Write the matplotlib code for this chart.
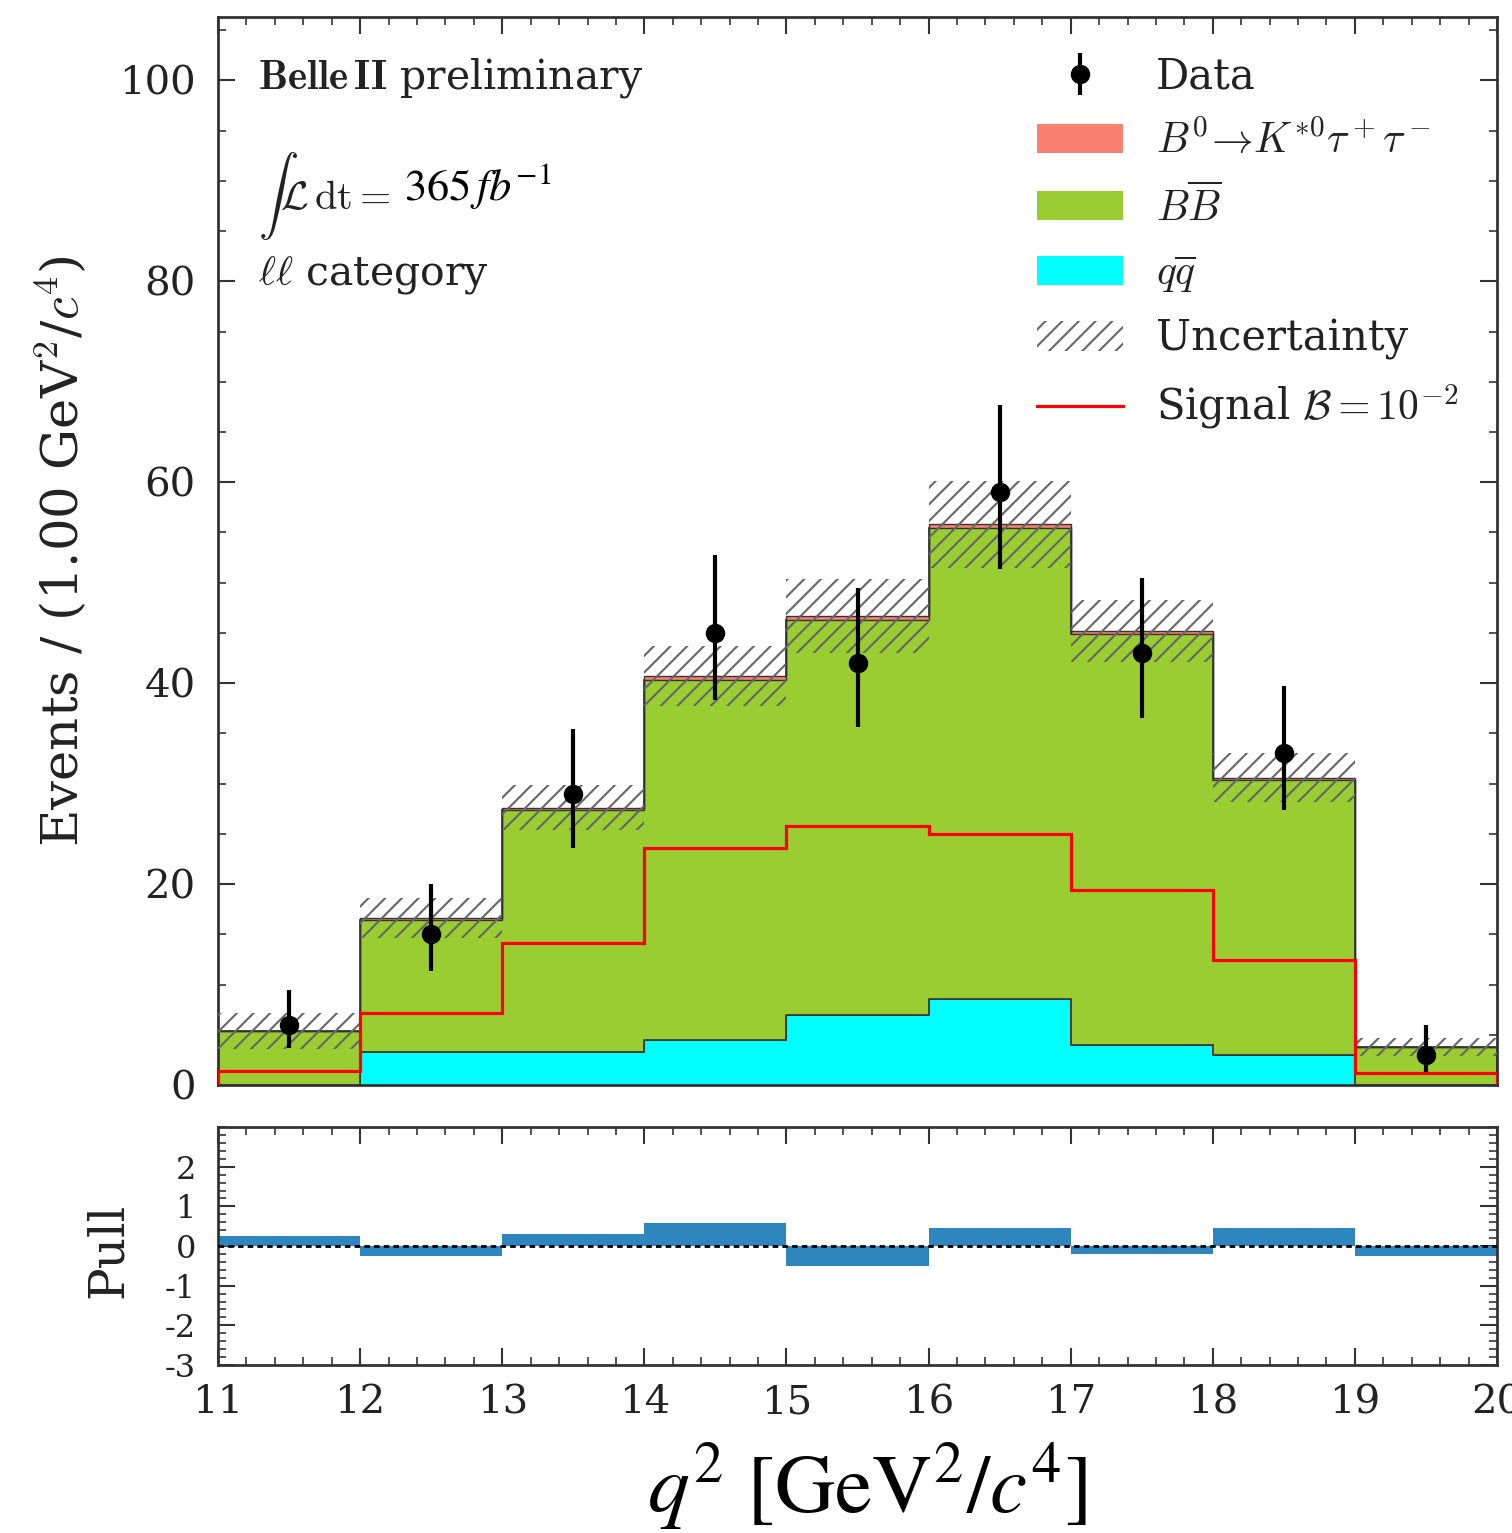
import numpy as np
import matplotlib
matplotlib.use("Agg")
import matplotlib.pyplot as plt
from matplotlib.patches import Patch
from matplotlib.lines import Line2D
from matplotlib.ticker import MultipleLocator

plt.rcParams['font.family'] = ['DejaVu Serif']
plt.rcParams['mathtext.fontset'] = 'cm'
plt.rcParams['axes.unicode_minus'] = False
plt.rcParams['hatch.linewidth'] = 1.5
plt.rcParams['hatch.color'] = '#666666'

# ---- data ----
edges = [11, 12, 13, 14, 15, 16, 17, 18, 19, 20]
qq = [0.0, 3.3, 3.3, 4.5, 7.0, 8.6, 4.0, 3.0, 0.0]
bb = [5.35, 13.15, 24.05, 35.85, 39.3, 46.8, 40.9, 27.4, 3.75]
sig_stack = [0.05, 0.15, 0.25, 0.35, 0.4, 0.4, 0.3, 0.2, 0.05]
unc = [1.8, 2.0, 2.25, 3.0, 3.7, 4.3, 3.1, 2.4, 0.9]
sig_line = [1.4, 7.2, 14.1, 23.6, 25.8, 25.0, 19.4, 12.4, 1.2]
data = [6, 15, 29, 45, 42, 59, 43, 33, 3]
err_lo = [2.3, 3.6, 5.4, 6.7, 6.4, 7.6, 6.5, 5.6, 1.7]
err_hi = [3.5, 5.0, 6.4, 7.8, 7.5, 8.7, 7.5, 6.7, 3.0]
pull = [0.25, -0.26, 0.3, 0.58, -0.5, 0.45, -0.21, 0.45, -0.26]

edges_a = np.array(edges, float)
centers = 0.5 * (edges_a[:-1] + edges_a[1:])
s1 = np.array(qq)
s2 = s1 + np.array(bb)
s3 = s2 + np.array(sig_stack)
unc_a = np.array(unc)

fig = plt.figure(figsize=(15.12, 15.33), dpi=100)
ax = fig.add_axes([0.1442, 0.2922, 0.8459, 0.6967])
axp = fig.add_axes([0.1442, 0.1096, 0.8459, 0.1552])

c_qq = '#00ffff'
c_bb = '#9acd32'
c_sig = '#fa8072'
edge_c = '#333333'

ax.stairs(s1, edges_a, baseline=0, fill=True, facecolor=c_qq, edgecolor=edge_c, lw=1.2, zorder=2)
ax.stairs(s2, edges_a, baseline=s1, fill=True, facecolor=c_bb, edgecolor=edge_c, lw=1.2, zorder=2)
ax.stairs(s3, edges_a, baseline=s2, fill=True, facecolor=c_sig, edgecolor=edge_c, lw=1.0, zorder=2)
ax.stairs(s3 + unc_a, edges_a, baseline=s3 - unc_a, fill=True, facecolor='none',
          edgecolor='#666666', hatch='//', lw=0, zorder=3)
ax.stairs(sig_line, edges_a, color='red', lw=2.3, zorder=4)
eb = ax.errorbar(centers, data, yerr=[err_lo, err_hi], fmt='o', color='black', ms=13,
                 elinewidth=3, capsize=0, zorder=5)

ax.set_xlim(11, 20)
ax.set_ylim(0, 106.3)
ax.xaxis.set_major_locator(MultipleLocator(1))
ax.xaxis.set_minor_locator(MultipleLocator(0.2))
ax.yaxis.set_major_locator(MultipleLocator(20))
ax.yaxis.set_minor_locator(MultipleLocator(5))
ax.tick_params(which='both', direction='in', top=True, right=True, colors='#333333',
               labelcolor='#222222')
ax.tick_params(which='major', length=12, width=1.5, labelsize=29, pad=16)
ax.tick_params(which='minor', length=6, width=1.2)
ax.tick_params(labelbottom=False)
for sp in ax.spines.values():
    sp.set_linewidth(2.0)
    sp.set_color('#333333')

ax.set_ylabel(r"Events / (1.00 GeV$^2$/$c^4$)", fontsize=37, color='#222222')
ax.yaxis.set_label_coords(-0.101, 0.5)

ax.text(11.28, 100.2, r"$\mathbf{Belle\,II}$ preliminary", fontsize=29.5, va='center', color='#222222')
ax.text(11.28, 88.5, r"$\int\mathcal{L}\,\mathrm{dt} = $", fontsize=29, va='center', color='#222222')
ax.text(12.31, 89.5, r"$365\,fb^{-1}$", fontsize=32, va='center', color='black',
        math_fontfamily='stix')
ax.text(11.28, 80.6, r"$\ell\ell$ category", fontsize=29.5, va='center', color='#222222')

handles = [eb,
           Patch(facecolor=c_sig, edgecolor='none'),
           Patch(facecolor=c_bb, edgecolor='none'),
           Patch(facecolor=c_qq, edgecolor='none'),
           Patch(facecolor='none', edgecolor='#666666', hatch='//', lw=0),
           Line2D([], [], color='red', lw=2.3)]
labels = ['Data', r"$B^0\!\to\! K^{*0}\tau^+\tau^-$", r"$B\overline{B}$", r"$q\overline{q}$",
          'Uncertainty', r"Signal $\mathcal{B} = 10^{-2}$"]
leg = ax.legend(handles, labels, loc='upper left', bbox_to_anchor=(0.6406, 0.964),
                frameon=False, fontsize=30, handlelength=2.05, handletextpad=0.8,
                labelspacing=0.54, borderpad=0, borderaxespad=0)
for t in leg.get_texts():
    t.set_color('#222222')

# ---- pull panel ----
axp.stairs(pull, edges_a, baseline=0, fill=True, facecolor='#2f86bf', edgecolor='none', zorder=2)
axp.axhline(0, color='black', ls=(0, (2, 1.5)), lw=2, zorder=3)
axp.set_xlim(11, 20)
axp.set_ylim(-3, 3)
axp.set_yticks([-3, -2, -1, 0, 1, 2])
axp.xaxis.set_major_locator(MultipleLocator(1))
axp.xaxis.set_minor_locator(MultipleLocator(0.2))
axp.yaxis.set_minor_locator(MultipleLocator(0.2))
axp.tick_params(which='both', direction='in', top=True, right=True, colors='#333333',
                labelcolor='#222222')
axp.tick_params(which='major', length=12, width=1.5, pad=16)
axp.tick_params(which='minor', length=6, width=1.2)
axp.tick_params(axis='x', which='major', labelsize=29, pad=14)
axp.tick_params(axis='y', which='major', labelsize=23)
for sp in axp.spines.values():
    sp.set_linewidth(2.0)
    sp.set_color('#333333')
axp.set_ylabel('Pull', fontsize=35, color='#222222')
axp.yaxis.set_label_coords(-0.067, 0.48)
axp.set_xlabel(r"$q^2\ [\mathrm{GeV}^2/c^4]$", fontsize=60, math_fontfamily='stix', color='black')
axp.xaxis.set_label_coords(0.507, -0.32)

fig.savefig('out.png', dpi=100)
